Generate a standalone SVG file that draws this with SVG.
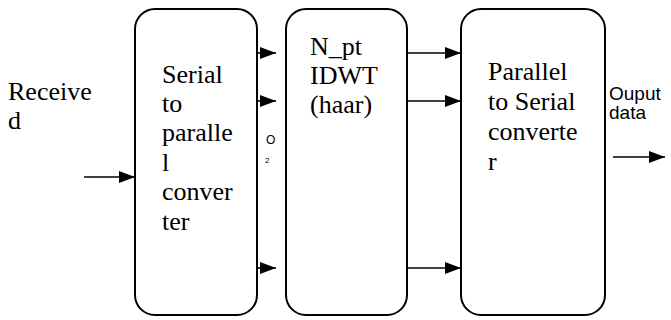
<svg xmlns="http://www.w3.org/2000/svg" width="671" height="320" viewBox="0 0 671 320">
<defs>
<style>
.box{fill:#fff;stroke:#000;stroke-width:2}
.ln{stroke:#000;stroke-width:1.6;fill:none}
</style>
<marker id="ah" markerWidth="16" markerHeight="12" refX="16" refY="6" orient="auto" markerUnits="userSpaceOnUse">
<path d="M0,0 L16,6 L0,12 Z" fill="#000"/>
</marker>
</defs>
<rect width="671" height="320" fill="#fff"/>
<g font-family="Liberation Serif, DejaVu Serif, serif" font-size="26" fill="#000">
<g id="input-label">
<text x="8" y="100">Receive</text>
<text x="8" y="129">d</text>
</g>
<g id="s2p">
<rect class="box" x="135" y="9" width="122" height="306" rx="20" ry="20"/>
<text x="162" y="83">Serial</text>
<text x="162" y="112">to</text>
<text x="162" y="141">paralle</text>
<text x="162" y="171">l</text>
<text x="162" y="200">conver</text>
<text x="162" y="230">ter</text>
</g>
<g id="idwt">
<rect class="box" x="286" y="9" width="121" height="306" rx="20" ry="20"/>
<text x="310" y="55">N_pt</text>
<text x="310" y="84">IDWT</text>
<text x="310" y="113">(haar)</text>
</g>
<g id="p2s">
<rect class="box" x="461" y="9" width="144" height="306" rx="20" ry="20"/>
<text x="488" y="80">Parallel</text>
<text x="488" y="110">to Serial</text>
<text x="488" y="140">converte</text>
<text x="488" y="170">r</text>
</g>
</g>
<g font-family="Liberation Sans, Arial, sans-serif" fill="#000">
<g id="mid-label">
<text x="266" y="144" font-size="12">O</text>
<text x="265" y="163" font-size="8">2</text>
</g>
<g id="output-label">
<text x="609" y="100" font-size="19">Ouput</text>
<text x="609" y="119" font-size="19">data</text>
</g>
</g>
<g id="connectors">
<line class="ln" x1="84" y1="177" x2="135" y2="177" marker-end="url(#ah)"/>
<line class="ln" x1="257" y1="53" x2="276" y2="53" marker-end="url(#ah)"/>
<line class="ln" x1="257" y1="101" x2="276" y2="101" marker-end="url(#ah)"/>
<line class="ln" x1="257" y1="268" x2="276" y2="268" marker-end="url(#ah)"/>
<line class="ln" x1="407" y1="53" x2="461" y2="53" marker-end="url(#ah)"/>
<line class="ln" x1="407" y1="101" x2="461" y2="101" marker-end="url(#ah)"/>
<line class="ln" x1="407" y1="268" x2="461" y2="268" marker-end="url(#ah)"/>
<line class="ln" x1="613" y1="157" x2="665" y2="157" marker-end="url(#ah)"/>
</g>
</svg>
